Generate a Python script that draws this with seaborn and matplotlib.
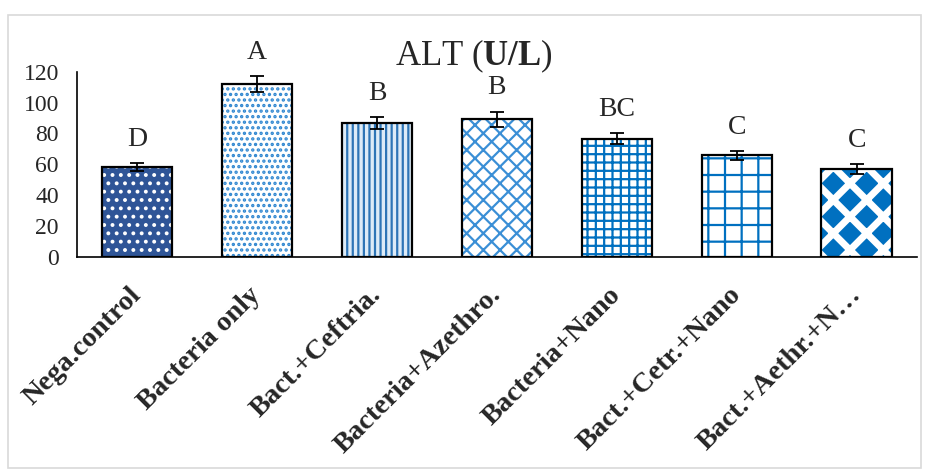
import numpy as np
import pandas as pd
import matplotlib
matplotlib.use('Agg')
import matplotlib.pyplot as plt
from matplotlib.patches import Rectangle
import seaborn as sns

# data
groups = ['Nega.control', 'Bacteria only', 'Bact.+Ceftria.', 'Bacteria+Azethro.',
          'Bacteria+Nano', 'Bact.+Cetr.+Nano', 'Bact.+Aethr.+N\u2026']
alt_mean = [58.0, 112.0, 86.7, 89.3, 76.6, 65.8, 56.7]
alt_err = [2.7, 5.2, 4.1, 4.9, 3.7, 3.0, 3.3]
letters = ['D', 'A', 'B', 'B', 'BC', 'C', 'C']
y_ticks = [0, 20, 40, 60, 80, 100, 120]

# fill / pattern per bar
face_colors = ['#2F5597', 'white', '#DDEBF7', 'white', 'white', 'white', '#0070C0']
hatch_colors = ['white', '#2E86D0', '#2E75B6', '#3A8FD6', '#0070C0', '#0070C0', 'white']
hatches = ['..', '...', '|||', 'xx', '++', '+', 'x']
hatch_widths = [1.6, 1.6, 1.6, 1.6, 1.6, 1.6, 5.0]

sns.set_style('white')
plt.rcParams['font.family'] = ['Liberation Serif', 'DejaVu Serif']
plt.rcParams['mathtext.fontset'] = 'custom'
plt.rcParams['mathtext.rm'] = 'Liberation Serif'
plt.rcParams['mathtext.bf'] = 'Liberation Serif:bold'
plt.rcParams['hatch.linewidth'] = 1.6

df = pd.DataFrame({'group': groups, 'alt': alt_mean})

fig = plt.figure(figsize=(9.28, 4.76), dpi=100)
ax = fig.add_axes([0.083, 0.461, 0.905, 0.388])

sns.barplot(data=df, x='group', y='alt', width=0.59, color='white',
            linewidth=0, errorbar=None, ax=ax)
bars = list(ax.patches)
for bar, fc, hc, h, hw in zip(bars, face_colors, hatch_colors, hatches, hatch_widths):
    bar.set_facecolor(fc)
    bar.set_edgecolor(hc)
    bar.set_hatch(h)
    bar.set_linewidth(0)
    if hasattr(bar, 'set_hatch_linewidth'):
        bar.set_hatch_linewidth(hw)

# black outline on top
sns.barplot(data=df, x='group', y='alt', width=0.59, fill=False, color='black',
            linewidth=1.6, errorbar=None, ax=ax)

ax.errorbar(range(len(groups)), alt_mean, yerr=alt_err, fmt='none',
            ecolor='black', elinewidth=1.3, capsize=5, capthick=1.3)

for i, (m, e, lab) in enumerate(zip(alt_mean, alt_err, letters)):
    ax.annotate(lab, (i, m + e), xytext=(0, 8), textcoords='offset points',
                ha='center', va='bottom', fontsize=20)

ax.set_ylim(0, 120)
ax.set_xlim(-0.5, len(groups) - 0.5)
ax.set_yticks(y_ticks)
ax.set_yticklabels([str(t) for t in y_ticks], fontsize=17)
ax.set_xticks(range(len(groups)))
ax.set_xticklabels(groups, rotation=45, ha='right', va='center',
                   rotation_mode='anchor', fontweight='bold', fontsize=20.5)
ax.tick_params(axis='y', length=0, pad=13)
ax.tick_params(axis='x', length=0, pad=25)
ax.set_xlabel('')
ax.set_ylabel('')

sns.despine(ax=ax, top=True, right=True)
for side in ['left', 'bottom']:
    ax.spines[side].set_color('black')
    ax.spines[side].set_linewidth(1.2)

fig.text(0.511, 1 - 65 / 476, r'ALT ($\mathbf{U/L}$)', ha='center',
         va='baseline', fontsize=25)

fig.patches.append(Rectangle((8 / 928, 8 / 476), 913 / 928, 453 / 476,
                             transform=fig.transFigure, fill=False,
                             edgecolor='#D9D9D9', linewidth=1.2))

fig.savefig('out.png', dpi=100)
